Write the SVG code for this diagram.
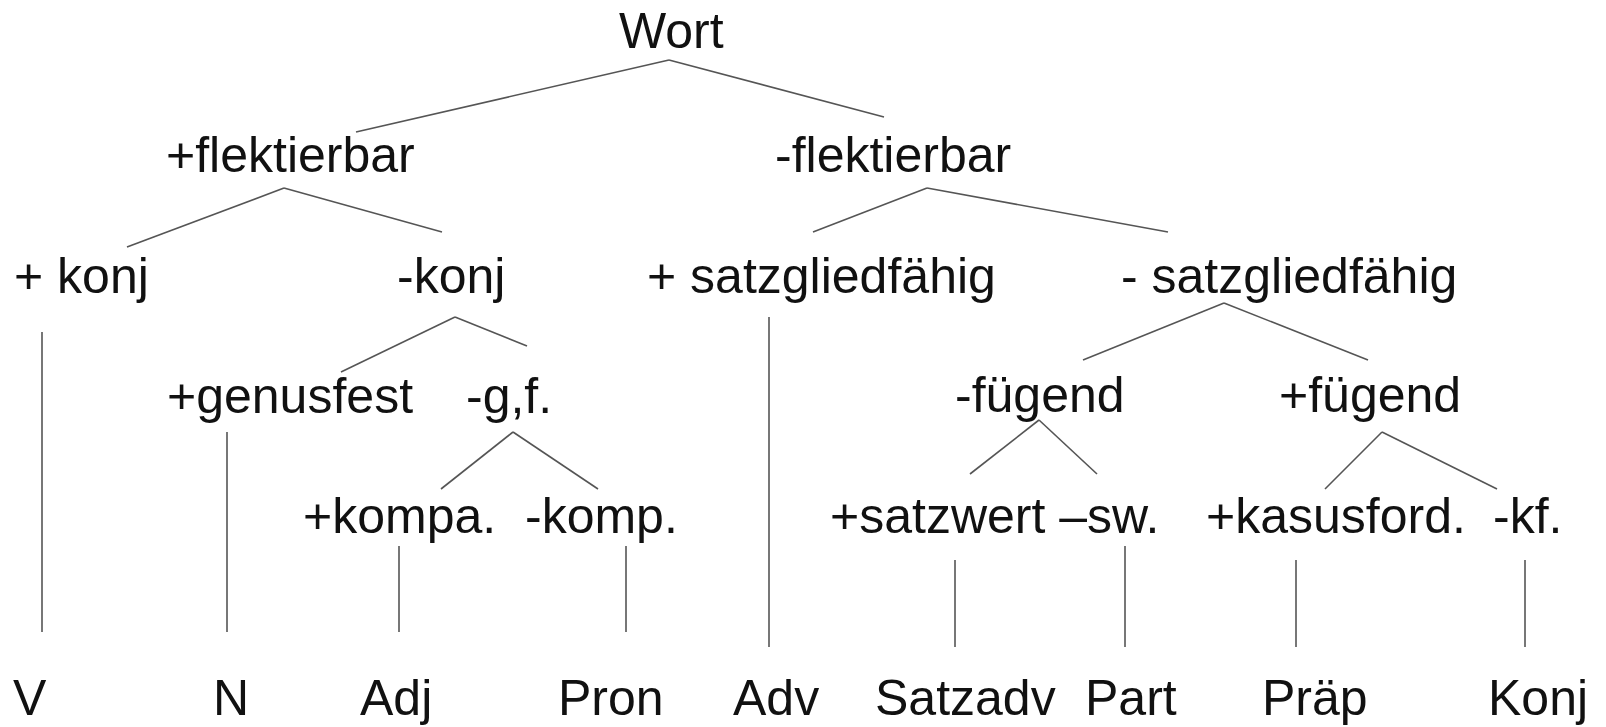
<svg xmlns="http://www.w3.org/2000/svg" width="1606" height="727" viewBox="0 0 1606 727">
<style>
text{font-family:"Liberation Sans",Arial,sans-serif;font-size:50px;fill:#111}
.c line{stroke:#555;stroke-width:1.6;fill:none}
</style>
<rect width="1606" height="727" fill="#fff"/>
<g class="c" id="connectors">
<line x1="669" y1="60" x2="356" y2="132"/>
<line x1="669" y1="60" x2="884" y2="117"/>
<line x1="284" y1="188" x2="127" y2="247"/>
<line x1="284" y1="188" x2="442" y2="232"/>
<line x1="927" y1="188" x2="813" y2="232"/>
<line x1="927" y1="188" x2="1168" y2="232"/>
<line x1="42" y1="332" x2="42" y2="632"/>
<line x1="455" y1="317" x2="341" y2="372"/>
<line x1="455" y1="317" x2="527" y2="346"/>
<line x1="227" y1="432" x2="227" y2="632"/>
<line x1="513" y1="432" x2="441" y2="489"/>
<line x1="513" y1="432" x2="598" y2="489"/>
<line x1="399" y1="546" x2="399" y2="632"/>
<line x1="626" y1="546" x2="626" y2="632"/>
<line x1="769" y1="317" x2="769" y2="647"/>
<line x1="1224" y1="303" x2="1083" y2="360"/>
<line x1="1224" y1="303" x2="1368" y2="360"/>
<line x1="1039" y1="420" x2="970" y2="474"/>
<line x1="1039" y1="420" x2="1097" y2="474"/>
<line x1="1382" y1="432" x2="1325" y2="489"/>
<line x1="1382" y1="432" x2="1497" y2="489"/>
<line x1="955" y1="560" x2="955" y2="647"/>
<line x1="1125" y1="546" x2="1125" y2="647"/>
<line x1="1296" y1="560" x2="1296" y2="647"/>
<line x1="1525" y1="560" x2="1525" y2="647"/>
</g>
<g id="wort"><text x="619" y="48">Wort</text></g>
<g id="pflekt"><text x="166" y="172">+flektierbar</text></g>
<g id="mflekt"><text x="775" y="172">-flektierbar</text></g>
<g id="pkonj"><text x="14" y="293">+ konj</text></g>
<g id="mkonj"><text x="397" y="293">-konj</text></g>
<g id="psatzg"><text x="647" y="293">+ satzgliedfähig</text></g>
<g id="msatzg"><text x="1121" y="293">- satzgliedfähig</text></g>
<g id="pgenus"><text x="167" y="413">+genusfest</text></g>
<g id="mgf"><text x="466" y="413">-g,f.</text></g>
<g id="mfuegend"><text x="955" y="412">-fügend</text></g>
<g id="pfuegend"><text x="1279" y="412">+fügend</text></g>
<g id="pkompa"><text x="303" y="533">+kompa.</text></g>
<g id="mkomp"><text x="525" y="533">-komp.</text></g>
<g id="psatzwert"><text x="830" y="533">+satzwert –sw.</text></g>
<g id="pkasus"><text x="1206" y="533">+kasusford.</text></g>
<g id="mkf"><text x="1493" y="533">-kf.</text></g>
<g id="V"><text x="13" y="715">V</text></g>
<g id="N"><text x="213" y="715">N</text></g>
<g id="Adj"><text x="360" y="715">Adj</text></g>
<g id="Pron"><text x="558" y="715">Pron</text></g>
<g id="Adv"><text x="733" y="715">Adv</text></g>
<g id="Satzadv"><text x="875" y="715">Satzadv</text></g>
<g id="Part"><text x="1085" y="715">Part</text></g>
<g id="Praep"><text x="1262" y="715">Präp</text></g>
<g id="Konj"><text x="1488" y="715">Konj</text></g>
</svg>
